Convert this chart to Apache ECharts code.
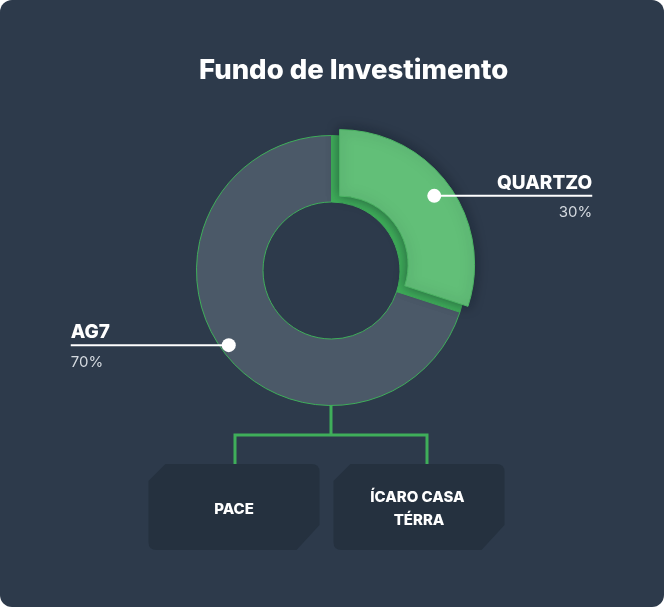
<!DOCTYPE html>
<html>
<head>
<meta charset="utf-8">
<script src="https://cdn.jsdelivr.net/npm/echarts@6/dist/echarts.min.js"></script>
<style>
  html, body { margin: 0; padding: 0; background: #ffffff; }
  #chart { width: 664px; height: 607px; background: #2d3a4b; border-radius: 12px; overflow: hidden; }
</style>
</head>
<body>
<div id="chart"></div>
<script>
// ---- data ----
const titleText = 'Fundo de Investimento';
const funds = ['QUARTZO', 'AG7'];
const shares = [30, 70];
const children = ['PACE', 'ÍCARO CASA TÉRRA'];

// ---- styles ----
const GREEN = '#3fae5a';
const LIGHT_GREEN = '#62bf78';
const GRAY = '#4b5968';
const BOX = '#25313f';
const FONT = 'Inter, "Noto Sans", sans-serif';

const center = [331.5, 270.5];
const ring = [68.5, 135];

const chart = echarts.init(document.getElementById('chart'), null, { renderer: 'canvas' });

const total = shares.reduce((a, b) => a + b, 0);
let acc = 0;
const dotData = shares.map(v => { const mid = acc + v / 2; acc += v; return [127, mid]; });

const boxPath = 'path://M17,0 L163,0 Q171,0 171,8 L171,61 L148,86 L8,86 Q0,86 0,78 L0,17 Z';
const boxOffsets = [[-1, 0], [-8, 0]];

const option = {
  backgroundColor: 'transparent',
  animation: false,
  title: {
    text: titleText,
    left: 194,
    top: 52,
    textStyle: { color: '#ffffff', fontSize: 27.5, fontWeight: 800, fontFamily: FONT }
  },
  polar: { center: center, radius: ring[1] },
  angleAxis: { type: 'value', min: 0, max: total, startAngle: 90, clockwise: true, show: false },
  radiusAxis: { type: 'value', min: 0, max: ring[1], show: false },
  series: [
    {
      type: 'tree',
      z: 1,
      silent: true,
      orient: 'TB',
      layout: 'orthogonal',
      left: 139, right: 141, top: 398, bottom: 100,
      edgeShape: 'polyline',
      edgeForkPosition: '34%',
      expandAndCollapse: false,
      roam: false,
      symbol: boxPath,
      symbolSize: [171, 86],
      itemStyle: { color: BOX, borderWidth: 0 },
      lineStyle: { color: GREEN, width: 3, curveness: 0 },
      label: {
        show: true, position: 'inside', offset: [0, 2], color: '#ffffff', fontSize: 15, fontWeight: 800,
        fontFamily: FONT, lineHeight: 23, width: 120, overflow: 'break', align: 'center'
      },
      leaves: {
        label: { show: true, position: 'inside', offset: [0, 2], verticalAlign: 'middle', align: 'center' }
      },
      emphasis: { disabled: true },
      data: [{
        name: titleText,
        symbol: 'none',
        symbolSize: 0,
        label: { show: false },
        children: children.map((n, i) => ({ name: n, symbolOffset: boxOffsets[i] }))
      }]
    },
    {
      type: 'pie',
      z: 2,
      silent: true,
      center: center,
      radius: ring,
      startAngle: 90,
      clockwise: true,
      label: { show: false },
      labelLine: { show: false },
      emphasis: { disabled: true },
      data: funds.map((n, i) => ({
        name: n, value: shares[i],
        itemStyle: { color: i === 0 ? GREEN : GRAY, borderColor: GREEN, borderWidth: 1 }
      }))
    },
    {
      type: 'pie',
      z: 3,
      silent: true,
      center: center,
      radius: ring,
      startAngle: 90,
      clockwise: true,
      selectedMode: 'single',
      selectedOffset: 10,
      label: { show: false },
      labelLine: { show: false },
      emphasis: { disabled: true },
      data: funds.map((n, i) => ({
        name: n, value: shares[i],
        selected: i === 0,
        itemStyle: i === 0
          ? { color: LIGHT_GREEN, borderColor: '#4cb464', borderWidth: 1, shadowBlur: 12, shadowColor: 'rgba(20,30,40,0.55)' }
          : { color: 'rgba(0,0,0,0)', borderWidth: 0 }
      }))
    },
    {
      type: 'pie',
      z: 4,
      silent: true,
      center: center,
      radius: [0, 127],
      startAngle: 90,
      clockwise: true,
      itemStyle: { color: 'rgba(0,0,0,0)', borderWidth: 0 },
      emphasis: { disabled: true },
      labelLine: { show: false, length: 0, length2: 0 },
      label: {
        show: true,
        position: 'outside',
        distanceToLabelLine: 0,
        padding: [8, 0, 0, 0],
        formatter: p => `{name|${p.name}}\n{hr|}\n{pct|${Math.round(p.percent)}%}`,
        rich: {
          name: { color: '#ffffff', fontSize: 19, fontWeight: 800, fontFamily: FONT, lineHeight: 24 },
          hr: { width: 158, height: 2, lineHeight: 2, backgroundColor: '#ffffff' },
          pct: { color: '#d5dae0', fontSize: 15, fontFamily: FONT, lineHeight: 32 }
        }
      },
      data: funds.map((n, i) => ({
        name: n, value: shares[i],
        label: {
          rich: {
            name: { align: i === 0 ? 'right' : 'left' },
            pct: { align: i === 0 ? 'right' : 'left' }
          }
        }
      }))
    },
    {
      type: 'scatter',
      coordinateSystem: 'polar',
      z: 5,
      silent: true,
      symbol: 'circle',
      symbolSize: 14,
      itemStyle: { color: '#ffffff', opacity: 1 },
      data: dotData
    }
  ]
};

chart.setOption(option);
</script>
</body>
</html>
